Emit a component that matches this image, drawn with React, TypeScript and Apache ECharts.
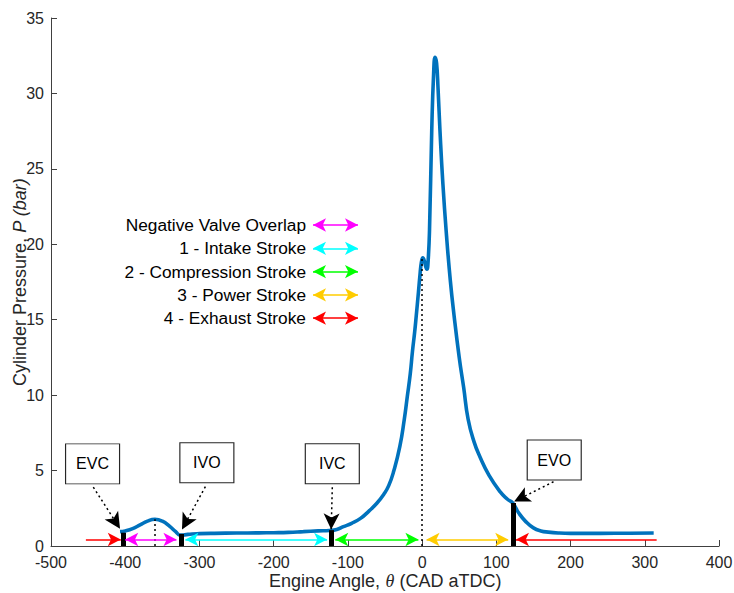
import React, { useEffect, useRef } from 'react';
import * as echarts from 'echarts';

// ---- Data ----
const angleDeg = [
  -407, -400, -390, -380, -370, -360, -350, -340, -332, -326, -320, -310, -300, -280, -250, -220, -200, -180, -160, -140,
  -125, -115, -106, -95, -83, -72, -61, -52, -45, -38, -30, -24, -20, -16, -13, -10, -8, -5, -3, -1,
  1, 3, 5, 6.5, 8, 10, 13, 15.5, 17.5, 19.5, 21.5, 24, 28, 33, 38, 43, 50, 56, 62, 70,
  78, 90, 105, 115, 122, 130, 140, 150, 160, 170, 185, 200, 240, 280, 312,
];
const pressureBar = [
  0.95, 1.0, 1.15, 1.4, 1.65, 1.77, 1.65, 1.3, 0.95, 0.72, 0.74, 0.8, 0.82, 0.84, 0.86, 0.87, 0.88, 0.9, 0.95, 1.0,
  1.03, 1.1, 1.28, 1.5, 1.83, 2.3, 2.83, 3.4, 4.0, 5.0, 6.6, 8.4, 9.9, 11.4, 12.9, 14.2, 15.2, 16.8, 17.9, 18.8,
  19.1, 18.9, 18.5, 18.35, 18.8, 21, 27.6, 31.3, 32.4, 32.0, 30.3, 27.6, 24, 20.5, 17.6, 15.3, 12.5, 10.5, 8.4, 6.9,
  5.9, 4.7, 3.6, 3.1, 2.85, 2.2, 1.6, 1.2, 1.0, 0.92, 0.86, 0.84, 0.84, 0.85, 0.86,
];

const xTicks = { min: -500, max: 400, interval: 100 };
const yTicks = { min: 0, max: 35, interval: 5 };

const valveEvents = ['EVC', 'IVO', 'IVC', 'EVO'];
const eventAngles = [-403, -325, -123, 123];
const eventBarTops = [0.88, 0.8, 1.05, 2.85];
const boxAngles = [-444, -290, -121, 178];
const boxPressures = [5.44, 5.52, 5.45, 5.7];
const pointerFrom = [[-443, 3.9], [-292, 3.93], [-121, 3.9], [177, 4.26]];
const pointerTo = [[-407, 1.15], [-323.5, 1.1], [-122.5, 1.1], [124, 2.95]];

const refAngles = [-360, 0];
const refTops = [1.77, 19.1];

const strokeNames = [
  'Negative Valve Overlap',
  '1 - Intake Stroke',
  '2 - Compression Stroke',
  '3 - Power Stroke',
  '4 - Exhaust Stroke',
];
const strokeSegments = [
  [[-400, -331]],
  [[-319, -128]],
  [[-117, -5]],
  [[6, 116]],
  [[-453, -406], [316, 126.5]],
];
const strokeDoubleHead = [true, true, true, true, false];
const strokeArrowP = 0.43;

const strokeNumbers = ['1', '2', '3', '4'];
const strokeNumberAngles = [-217, -53, 62, 226];
const strokeNumberP = [1.86, 1.9, 2.05, 2.05];

// ---- Styles ----
const FONT = 'Liberation Sans, Arial, Helvetica, sans-serif';
const AXIS_COLOR = '#404040';
const TEXT_COLOR = '#262626';
const strokeColors = ['#FF00FF', '#00FFFF', '#00FF00', '#FFCC00', '#FF0000'];
const LEGEND_RIGHT = 306;
const LEGEND_TOP = 225;
const LEGEND_STEP = 23.3;
const LEGEND_ARROW_X0 = 313;
const LEGEND_ARROW_X1 = 358;
const HEAD = [10, 13];
const PTR_HEAD = [12, 16];

function buildOption(): any {
  const curve = angleDeg.map((a, i) => [a, pressureBar[i]]);

  const strokeSeries = strokeNames.map((name, si) => {
    const data: any[] = [];
    strokeSegments[si].forEach(([a0, a1]) => {
      data.push([
        { coord: [a0, strokeArrowP], symbol: strokeDoubleHead[si] ? 'arrow' : 'none', symbolSize: HEAD },
        { coord: [a1, strokeArrowP], symbol: 'arrow', symbolSize: HEAD },
      ]);
    });
    const ly = LEGEND_TOP + si * LEGEND_STEP;
    data.push([
      { x: LEGEND_ARROW_X0, y: ly, symbol: 'arrow', symbolSize: HEAD },
      { x: LEGEND_ARROW_X1, y: ly, symbol: 'arrow', symbolSize: HEAD },
    ]);
    return {
      type: 'line',
      name,
      data: [],
      z: 5,
      silent: true,
      markLine: {
        silent: true,
        animation: false,
        symbol: ['arrow', 'arrow'],
        symbolSize: 12,
        label: { show: false },
        emphasis: { disabled: true },
        lineStyle: { color: strokeColors[si], width: 1.5, type: 'solid', opacity: 1 },
        data,
      },
    };
  });

  return {
    animation: false,
    backgroundColor: '#ffffff',
    textStyle: { fontFamily: FONT },
    grid: { left: 51, right: 15, top: 18, bottom: 47, containLabel: false, outerBoundsMode: 'none' },
    xAxis: {
      type: 'value',
      min: xTicks.min,
      max: xTicks.max,
      interval: xTicks.interval,
      name: 'Engine Angle, {th|θ} (CAD aTDC)',
      nameLocation: 'middle',
      nameGap: 26,
      nameMoveOverlap: false,
      nameTextStyle: {
        fontSize: 18,
        color: TEXT_COLOR,
        fontFamily: FONT,
        rich: {
          th: { fontSize: 18, fontStyle: 'italic', fontFamily: 'Liberation Serif, DejaVu Serif, serif', color: TEXT_COLOR },
        },
      },
      axisLine: { show: true, onZero: false, lineStyle: { color: AXIS_COLOR, width: 1 } },
      axisTick: { show: true, inside: true, length: 6, lineStyle: { color: AXIS_COLOR } },
      axisLabel: { fontSize: 16, color: TEXT_COLOR, fontFamily: FONT, margin: 8 },
      splitLine: { show: false },
    },
    yAxis: {
      type: 'value',
      min: yTicks.min,
      max: yTicks.max,
      interval: yTicks.interval,
      name: 'Cylinder Pressure, {it|P (bar)}',
      nameLocation: 'middle',
      nameRotate: 90,
      nameGap: 22,
      nameMoveOverlap: false,
      nameTextStyle: {
        fontSize: 18,
        color: TEXT_COLOR,
        fontFamily: FONT,
        rich: { it: { fontSize: 18, fontStyle: 'italic', fontFamily: FONT, color: TEXT_COLOR } },
      },
      axisLine: { show: true, onZero: false, lineStyle: { color: AXIS_COLOR, width: 1 } },
      axisTick: { show: true, inside: true, length: 6, lineStyle: { color: AXIS_COLOR } },
      axisLabel: { fontSize: 16, color: TEXT_COLOR, fontFamily: FONT, margin: 7 },
      splitLine: { show: false },
    },
    graphic: strokeNames.map((name, si) => ({
      type: 'text',
      x: LEGEND_RIGHT,
      y: LEGEND_TOP + si * LEGEND_STEP,
      silent: true,
      style: {
        text: name,
        font: `17.3px ${FONT}`,
        fill: '#000',
        align: 'right',
        verticalAlign: 'middle',
        textAlign: 'right',
        textVerticalAlign: 'middle',
      },
    })),
    series: [
      // dotted reference verticals
      {
        type: 'line',
        data: [],
        z: 2,
        silent: true,
        markLine: {
          silent: true,
          animation: false,
          symbol: ['none', 'none'],
          label: { show: false },
          emphasis: { disabled: true },
          lineStyle: { color: '#000', width: 1.5, type: [2, 3] },
          data: refAngles.map((a, i) => [{ coord: [a, 0] }, { coord: [a, refTops[i]] }]),
        },
      },
      // pressure curve
      {
        type: 'line',
        name: 'Cylinder Pressure',
        data: curve,
        showSymbol: false,
        smooth: 0.5,
        z: 3,
        silent: true,
        lineStyle: { color: '#0072BD', width: 3.6 },
      },
      // valve event bars
      {
        type: 'line',
        data: [],
        z: 4,
        silent: true,
        markLine: {
          silent: true,
          animation: false,
          symbol: ['none', 'none'],
          label: { show: false },
          emphasis: { disabled: true },
          lineStyle: { color: '#000', width: 5, type: 'solid' },
          data: eventAngles.map((a, i) => [{ coord: [a, 0] }, { coord: [a, eventBarTops[i]] }]),
        },
      },
      ...strokeSeries,
      // pointer arrows from boxes
      {
        type: 'line',
        data: [],
        z: 6,
        silent: true,
        markLine: {
          silent: true,
          animation: false,
          symbol: ['none', 'arrow'],
          symbolSize: 14,
          label: { show: false },
          emphasis: { disabled: true },
          lineStyle: { color: '#000', width: 1.5, type: [2, 3] },
          data: pointerFrom.map((p, i) => [
            { coord: p, symbol: 'none' },
            { coord: pointerTo[i], symbol: 'arrow', symbolSize: PTR_HEAD },
          ]),
        },
      },
      // event boxes
      {
        type: 'scatter',
        z: 7,
        silent: true,
        symbol: 'rect',
        symbolSize: [54, 40],
        itemStyle: { color: '#ffffff', borderColor: '#262626', borderWidth: 1, opacity: 1 },
        label: {
          show: true,
          position: 'inside',
          formatter: (p: any) => p.value[2],
          fontSize: 16,
          color: '#000',
          fontFamily: FONT,
        },
        data: valveEvents.map((n, i) => [boxAngles[i], boxPressures[i], n]),
      },
      // stroke numbers
      {
        type: 'scatter',
        z: 7,
        silent: true,
        symbolSize: 0,
        itemStyle: { opacity: 0 },
        label: {
          show: true,
          position: 'inside',
          formatter: (p: any) => p.value[2],
          fontSize: 18,
          fontWeight: 'bold',
          color: '#000',
          fontFamily: FONT,
        },
        data: strokeNumbers.map((n, i) => [strokeNumberAngles[i], strokeNumberP[i], n]),
      },
    ],
  };
}

export default function App() {
  const ref = useRef<HTMLDivElement>(null);
  useEffect(() => {
    if (!ref.current) return;
    const chart = echarts.init(ref.current, null, { renderer: 'svg' });
    chart.setOption(buildOption());
    return () => chart.dispose();
  }, []);
  return (
    <div
      ref={ref}
      style={{ position: 'fixed', left: 0, top: 0, width: 734, height: 593, background: '#fff' }}
    />
  );
}
